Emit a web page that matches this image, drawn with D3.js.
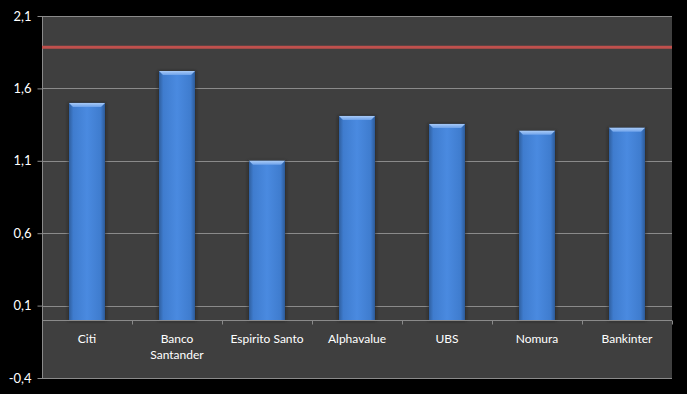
<!DOCTYPE html>
<html><head><meta charset="utf-8">
<script src="https://cdn.jsdelivr.net/npm/d3@7"></script>
<style>html,body{margin:0;padding:0;background:#000;}svg{display:block;}</style>
</head><body>
<script>
const categories = ["Citi", "Banco Santander", "Espirito Santo", "Alphavalue", "UBS", "Nomura", "Bankinter"];
const values = [1.50, 1.72, 1.10, 1.41, 1.355, 1.307, 1.328];
const referenceValue = 1.885;
const yTicks = [-0.4, 0.1, 0.6, 1.1, 1.6, 2.1];
const yTickLabels = ["-0,4", "0,1", "0,6", "1,1", "1,6", "2,1"];

const W = 687, H = 394;
const m = {left: 42, right: 15, top: 16, bottom: 16};
const svg = d3.select("body").append("svg").attr("width", W).attr("height", H);
svg.append("rect").attr("width", W).attr("height", H).attr("fill", "#000");

const x = d3.scaleBand().domain(categories).range([m.left, W - m.right]).paddingInner(0.6).paddingOuter(0.3);
const y = d3.scaleLinear().domain([-0.4, 2.1]).range([H - m.bottom, m.top]);

const defs = svg.append("defs");
const g1 = defs.append("linearGradient").attr("id", "barGrad").attr("x1", 0).attr("x2", 1).attr("y1", 0).attr("y2", 0);
[[0, "#2f5f9f"], [0.12, "#3f7cce"], [0.5, "#4a8ae0"], [0.88, "#3f7cce"], [1, "#2c5a98"]].forEach(s =>
  g1.append("stop").attr("offset", s[0]).attr("stop-color", s[1]));
const g2 = defs.append("linearGradient").attr("id", "topGrad").attr("x1", 0).attr("x2", 0).attr("y1", 0).attr("y2", 1);
[[0, "#a9cbf7"], [1, "#6ea2ea"]].forEach(s => g2.append("stop").attr("offset", s[0]).attr("stop-color", s[1]));
const f = defs.append("filter").attr("id", "shadow").attr("x", "-20%").attr("y", "-10%").attr("width", "140%").attr("height", "120%");
f.append("feGaussianBlur").attr("stdDeviation", 1.5);

// plot area
svg.append("rect").attr("x", m.left).attr("y", m.top).attr("width", W - m.right - m.left)
  .attr("height", H - m.bottom - m.top).attr("fill", "#3f3f3f");

// gridlines
svg.append("g").selectAll("line").data(yTicks).join("line")
  .attr("x1", m.left).attr("x2", W - m.right)
  .attr("y1", d => Math.round(y(d)) + 0.5).attr("y2", d => Math.round(y(d)) + 0.5)
  .attr("stroke", "#8a8a8a").attr("stroke-width", 1);

// y axis
const yAxis = d3.axisLeft(y).tickValues(yTicks).tickFormat((d, i) => yTickLabels[i]).tickSize(5).tickPadding(6);
const ya = svg.append("g").attr("transform", `translate(${m.left + 0.5},0)`).call(yAxis);
ya.selectAll("path,line").attr("stroke", "#8a8a8a");
ya.select(".domain").attr("d", `M0,${y(-0.4)}V${y(2.1)}`);
ya.selectAll("text").attr("fill", "#fff").attr("font-family", "Lato, 'Open Sans', sans-serif").attr("font-size", 13);

// bars
const bars = svg.append("g");
categories.forEach((c, i) => {
  const bx = x(c), bw = x.bandwidth(), top = y(values[i]), base = y(0);
  bars.append("rect").attr("x", bx - 1).attr("y", top).attr("width", bw + 2).attr("height", base - top + 1)
    .attr("fill", "#1e1e1e").attr("opacity", 0.6).attr("filter", "url(#shadow)");
  bars.append("rect").attr("x", bx).attr("y", top).attr("width", bw).attr("height", base - top).attr("fill", "url(#barGrad)");
  const b = 4;
  bars.append("path").attr("d", `M${bx},${top}H${bx + bw}L${bx + bw - b},${top + b}H${bx + b}Z`).attr("fill", "url(#topGrad)");
});

// x axis
const xa = svg.append("g").attr("transform", `translate(0,${Math.round(y(0)) + 0.5})`);
xa.append("line").attr("x1", m.left).attr("x2", W - m.right).attr("stroke", "#8a8a8a");
const bounds = d3.range(categories.length + 1).map(i => m.left + i * (W - m.right - m.left) / categories.length);
xa.selectAll("line.t").data(bounds).join("line").attr("class", "t")
  .attr("x1", d => Math.round(d) + 0.5).attr("x2", d => Math.round(d) + 0.5).attr("y1", 0).attr("y2", 4).attr("stroke", "#8a8a8a");
categories.forEach(c => {
  const words = c === "Banco Santander" ? ["Banco", "Santander"] : [c];
  const t = xa.append("text").attr("x", x(c) + x.bandwidth() / 2).attr("y", 22)
    .attr("text-anchor", "middle").attr("fill", "#fff").attr("font-family", "Lato, 'Open Sans', sans-serif").attr("font-size", 12);
  words.forEach((w, k) => t.append("tspan").attr("x", x(c) + x.bandwidth() / 2).attr("dy", k ? 16 : 0).text(w));
});

// reference line
svg.append("line").attr("x1", m.left).attr("x2", W - m.right)
  .attr("y1", y(referenceValue)).attr("y2", y(referenceValue))
  .attr("stroke", "#c0504d").attr("stroke-width", 3);
</script>
</body></html>
